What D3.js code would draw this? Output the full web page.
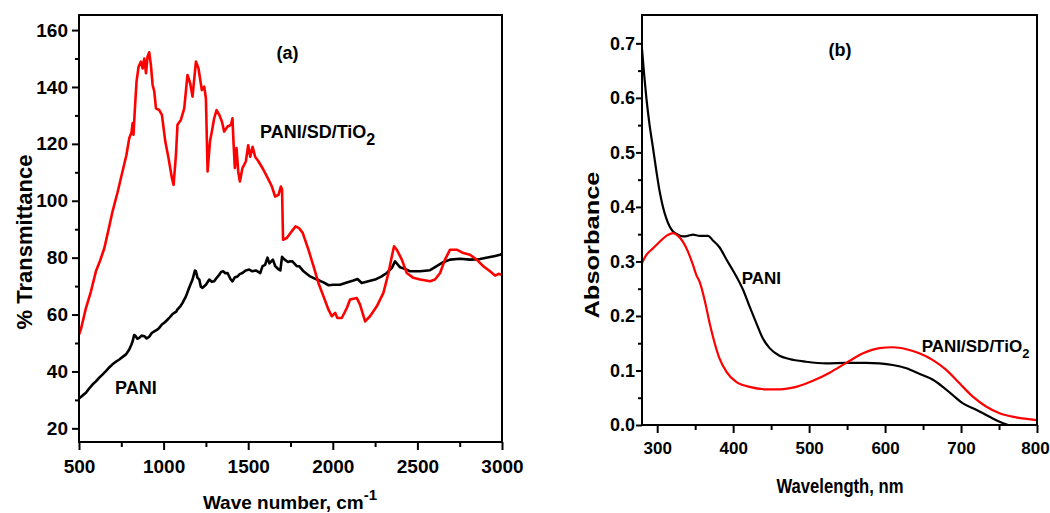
<!DOCTYPE html>
<html>
<head>
<meta charset="utf-8">
<script src="https://cdn.jsdelivr.net/npm/d3@7.9.0/dist/d3.min.js"></script>
<style>
  body { margin: 0; background: #fff; }
  svg { font-family: "Liberation Sans", Arial, sans-serif; font-weight: bold; }
</style>
</head>
<body>
<svg id="chart" width="1050" height="513"></svg>
<script>
// (a) FTIR spectra: [wave number, % transmittance]
const ftirComposite = [
  [500,53],[512,55],[541,62.3],[570,68],[600,75.2],[625,79],[650,83.4],[675,90],[698,96.2],[728,103],
  [757,110.3],[780,116],[797,122],[810,124],[817,127.3],[822,123.2],[830,132],[840,141.9],[852,147.1],
  [866,148.9],[876,146.5],[886,150],[896,144.8],[905,150.6],[915,152.2],[925,147.7],[935,140.7],
  [945,138.4],[955,132.5],[974,131.9],[990,130.2],[1010,120.8],[1029,115],[1049,108],[1059,105.6],
  [1073,116.1],[1082,126.7],[1102,128.4],[1122,132.5],[1141,144.2],[1157,141.3],[1171,136.6],
  [1191,148.9],[1206,146.6],[1226,138.9],[1240,140.1],[1250,136],[1260,110.3],[1274,120.8],
  [1285,124.3],[1299,129],[1313,131.9],[1329,130.2],[1345,127.8],[1358,124.3],[1378,126.1],
  [1398,126.7],[1407,129],[1413,120.8],[1421,111.5],[1431,118.5],[1441,110.3],[1451,106.8],
  [1466,111.5],[1486,113.8],[1500,119.5],[1512,115.5],[1526,119],[1541,115.5],[1561,113.8],
  [1590,110.9],[1620,107.4],[1640,105],[1659,101.5],[1679,102.1],[1693,105],[1700,103.9],
  [1706,86.3],[1728,86.9],[1750,88.7],[1780,91],[1800,90.4],[1822,88.7],[1856,82.8],[1886,77],
  [1915,71.1],[1945,66.4],[1974,61.8],[1994,59.4],[2014,60.6],[2027,58.8],[2053,58.8],[2083,62.3],
  [2102,65.3],[2142,65.8],[2161,63.5],[2191,57.6],[2220,59.4],[2260,62.9],[2299,67.6],[2329,74.6],
  [2349,80.5],[2362,84],[2378,82.8],[2408,79.3],[2437,74.6],[2476,72.9],[2516,72.3],[2575,71.7],
  [2604,72.3],[2634,74.6],[2663,79.3],[2693,82.8],[2732,82.8],[2772,81.6],[2811,81],[2850,79.3],
  [2890,77],[2929,75.2],[2959,73.7],[2980,74.3],[3000,74]
];
const ftirPani = [
  [500,30.5],[520,31.5],[541,32.5],[560,34],[580,35.4],[600,36.5],[620,37.8],[640,39],[659,40.1],
  [680,41.5],[698,42.5],[720,43.5],[738,44.2],[760,45.2],[778,46],[797,47.7],[810,49.5],[817,50.6],
  [826,52.8],[833,52.6],[845,51.5],[856,51.8],[870,52.6],[886,52.4],[900,51.6],[915,52.2],[930,53.5],
  [945,54.1],[960,54.6],[974,55.3],[990,56.5],[1004,57.1],[1020,58],[1033,58.8],[1050,60],[1063,60.6],
  [1075,61],[1082,61.8],[1100,63],[1112,64.1],[1132,66.4],[1151,69.4],[1171,72.3],[1185,75.5],
  [1191,75.2],[1200,73],[1211,72.3],[1220,69.8],[1230,69.4],[1250,70.5],[1270,72.3],[1285,71.5],
  [1299,71.7],[1315,73],[1329,74],[1340,75],[1352,75.2],[1365,74.5],[1378,74.6],[1395,72.5],
  [1407,71.7],[1420,73],[1437,73.4],[1450,74.2],[1466,74.6],[1485,75.5],[1506,75.8],[1525,75.2],
  [1545,75.5],[1571,74.6],[1585,77],[1600,77.5],[1614,80],[1625,78],[1646,79.3],[1660,77],
  [1677,76],[1690,75.5],[1700,80.3],[1712,79.5],[1735,78.5],[1748,78.7],[1761,78.7],[1787,77],
  [1801,77],[1827,75.2],[1866,73.4],[1906,72.3],[1945,71.3],[1975,70.3],[2004,70.5],[2043,70.5],
  [2083,71.3],[2122,72],[2146,72.5],[2171,71.1],[2210,71.7],[2250,72.3],[2289,73.4],[2319,74.6],
  [2349,76.4],[2368,78.7],[2385,77.5],[2398,76.6],[2437,75.8],[2457,75.2],[2496,75.2],[2516,75.2],
  [2575,75.6],[2614,77],[2653,78.4],[2693,79.3],[2752,79.6],[2811,79.3],[2870,79.5],[2929,80.2],
  [2960,80.6],[2988,81],[3000,81.3]
];

// (b) UV-vis spectra: [wavelength nm, absorbance]
const uvPani = [
  [280,0.69],[283,0.64],[285.8,0.599],[290,0.55],[294.5,0.508],[299,0.465],[303.3,0.428],[307.6,0.4],
  [312,0.379],[316.4,0.364],[320.8,0.355],[327.4,0.349],[334,0.346],[340.5,0.347],[347,0.349],
  [356,0.347],[367,0.347],[373,0.339],[382,0.326],[391,0.304],[402,0.278],[413,0.248],[421.7,0.217],
  [430.5,0.187],[439,0.159],[448,0.141],[461,0.127],[474,0.121],[496,0.116],[522.6,0.113],[549,0.114],
  [575,0.114],[592.8,0.113],[610,0.11],[628,0.104],[645,0.094],[663,0.083],[676,0.07],[689,0.055],
  [702,0.04],[720,0.028],[737.5,0.015],[750.7,0.006],[762,0]
];
const uvComposite = [
  [280,0.297],[285.8,0.312],[294.5,0.324],[303.3,0.336],[312,0.347],[320.8,0.352],[327.4,0.347],
  [334,0.336],[340.5,0.318],[347,0.294],[351.6,0.275],[356,0.262],[362.5,0.229],[369,0.187],
  [375.7,0.15],[382,0.122],[391,0.098],[404,0.079],[421.7,0.07],[443.7,0.0655],[461,0.0655],
  [483,0.07],[505,0.081],[527,0.096],[549,0.114],[571,0.1315],[592.8,0.141],[610,0.1426],[628,0.139],
  [645,0.1315],[663,0.119],[680.5,0.101],[698,0.0765],[715.5,0.052],[733,0.034],[750.7,0.0215],
  [772.6,0.014],[800,0.009]
];

// tick values
const wnTicks = [500, 1000, 1500, 2000, 2500, 3000];
const wnMinor = [750, 1250, 1750, 2250, 2750];
const transTicks = [20, 40, 60, 80, 100, 120, 140, 160];
const transMinor = [30, 50, 70, 90, 110, 130, 150];
const wlTicks = [300, 400, 500, 600, 700, 800];
const wlMinor = [350, 450, 550, 650, 750];
const absTicks = [0, 0.1, 0.2, 0.3, 0.4, 0.5, 0.6, 0.7];
const absMinor = [0.05, 0.15, 0.25, 0.35, 0.45, 0.55, 0.65];

const svg = d3.select("#chart");

function styleAxis(sel, fontSize) {
  sel.select(".domain").remove();
  sel.selectAll(".tick line").attr("stroke", "#000").attr("stroke-width", 2);
  sel.selectAll(".tick text")
    .attr("fill", "#000")
    .attr("font-family", "Liberation Sans, Arial, sans-serif")
    .attr("font-weight", "bold")
    .attr("font-size", fontSize);
}

function drawPanel(p) {
  const x = d3.scaleLinear().domain(p.xDomain).range([p.left, p.right]);
  const y = d3.scaleLinear().domain(p.yDomain).range([p.bottom, p.top]);
  const g = svg.append("g");

  g.append("clipPath").attr("id", p.id + "-clip")
    .append("rect")
    .attr("x", p.left).attr("y", p.top)
    .attr("width", p.right - p.left).attr("height", p.bottom - p.top);

  // minor ticks
  g.append("g").attr("transform", `translate(0,${p.bottom})`)
    .call(d3.axisBottom(x).tickValues(p.xMinor).tickSize(5).tickFormat(""))
    .call(s => styleAxis(s, 0));
  g.append("g").attr("transform", `translate(${p.left},0)`)
    .call(d3.axisLeft(y).tickValues(p.yMinor).tickSize(4).tickFormat(""))
    .call(s => styleAxis(s, 0));

  // major ticks
  const xAxis = g.append("g").attr("transform", `translate(0,${p.bottom})`)
    .call(d3.axisBottom(x).tickValues(p.xTicks).tickSize(8).tickPadding(p.xPad).tickFormat(p.xFormat))
    .call(s => styleAxis(s, p.xFont));
  // last label sits on the frame corner, nudge it so it stays on the page
  xAxis.selectAll(".tick text").filter(d => d === p.xTicks[p.xTicks.length - 1])
    .attr("dx", p.lastDx || 0);
  g.append("g").attr("transform", `translate(${p.left},0)`)
    .call(d3.axisLeft(y).tickValues(p.yTicks).tickSize(p.yTickLen).tickPadding(p.yPad).tickFormat(p.yFormat))
    .call(s => styleAxis(s, p.yFont));

  const line = d3.line().x(d => x(d[0])).y(d => y(d[1])).curve(p.curve);
  p.series.forEach(s => {
    g.append("path")
      .datum(s.data)
      .attr("clip-path", `url(#${p.id}-clip)`)
      .attr("fill", "none")
      .attr("stroke", s.color)
      .attr("stroke-width", p.lineWidth)
      .attr("stroke-linejoin", "round")
      .attr("d", line);
  });

  g.append("rect")
    .attr("x", p.left).attr("y", p.top)
    .attr("width", p.right - p.left).attr("height", p.bottom - p.top)
    .attr("fill", "none").attr("stroke", "#000").attr("stroke-width", 2);

  return g;
}

const left = drawPanel({
  id: "ftir", left: 79, right: 502, top: 15, bottom: 442,
  xDomain: [500, 3000], yDomain: [15.2, 165.3],
  xTicks: wnTicks, xMinor: wnMinor, yTicks: transTicks, yMinor: transMinor,
  xFormat: d3.format("d"), yFormat: d3.format("d"),
  xPad: 10, yPad: 4, yTickLen: 7, xFont: 19, yFont: 19,
  curve: d3.curveLinear, lineWidth: 2.6,
  series: [{ data: ftirPani, color: "#000" }, { data: ftirComposite, color: "#ff0000" }]
});

const right = drawPanel({
  id: "uv", left: 642, right: 1037, top: 15, bottom: 425,
  xDomain: [280, 800], yDomain: [0, 0.752],
  xTicks: wlTicks, xMinor: wlMinor, yTicks: absTicks, yMinor: absMinor,
  xFormat: d3.format("d"), yFormat: d3.format(".1f"),
  xPad: 9, yPad: 1, yTickLen: 6, xFont: 17, yFont: 18, lastDx: -2,
  curve: d3.curveMonotoneX, lineWidth: 2.2,
  series: [{ data: uvPani, color: "#000" }, { data: uvComposite, color: "#ff0000" }]
});

// axis titles
svg.append("text")
  .attr("transform", "translate(32,242) rotate(-90)")
  .attr("text-anchor", "middle").attr("font-size", 22)
  .text("% Transmittance");

const wn = svg.append("text")
  .attr("x", 290).attr("y", 509)
  .attr("text-anchor", "middle").attr("font-size", 19);
wn.append("tspan").text("Wave number, cm");
wn.append("tspan").attr("dy", -9).attr("font-size", 15).text("-1");

svg.append("text")
  .attr("transform", "translate(599,245) rotate(-90)")
  .attr("text-anchor", "middle").attr("font-size", 20)
  .attr("textLength", 147).attr("lengthAdjust", "spacingAndGlyphs")
  .text("Absorbance");

svg.append("text")
  .attr("x", 840).attr("y", 493)
  .attr("text-anchor", "middle").attr("font-size", 20)
  .attr("textLength", 127).attr("lengthAdjust", "spacingAndGlyphs")
  .text("Wavelength, nm");

// panel labels
svg.append("text").attr("x", 287.5).attr("y", 59)
  .attr("text-anchor", "middle").attr("font-size", 18).text("(a)");
svg.append("text").attr("x", 840).attr("y", 56)
  .attr("text-anchor", "middle").attr("font-size", 18).text("(b)");

// curve labels
function compLabel(xPos, yPos, size, subSize, subDy) {
  const t = svg.append("text").attr("x", xPos).attr("y", yPos).attr("font-size", size);
  t.append("tspan").text("PANI/SD/TiO");
  t.append("tspan").attr("dy", subDy).attr("font-size", subSize).text("2");
}
compLabel(260, 138, 18, 16, 7);
compLabel(921.7, 351.7, 17, 13, 6);

svg.append("text").attr("x", 115).attr("y", 394).attr("font-size", 18).text("PANI");
svg.append("text").attr("x", 741.7).attr("y", 284).attr("font-size", 17).text("PANI");
</script>
</body>
</html>
